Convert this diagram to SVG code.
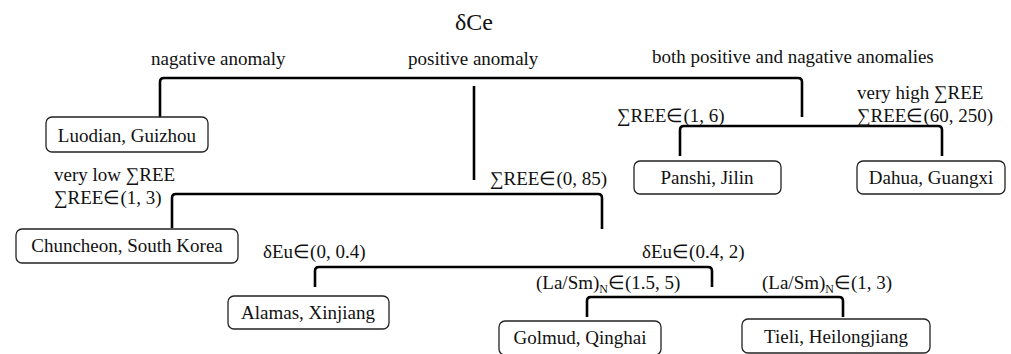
<svg xmlns="http://www.w3.org/2000/svg" width="1011" height="354" viewBox="0 0 1011 354">
<style>
text{font-family:"Liberation Serif","Times New Roman",serif;font-size:19px;fill:#111}
.t{font-size:24px}
.box rect{fill:#fff;stroke:#222;stroke-width:1.3}
.box text{text-anchor:middle}
.c path{fill:none;stroke:#000;stroke-width:2.6;stroke-linejoin:round;stroke-linecap:butt}
</style>
<rect width="1011" height="354" fill="#fff"/>
<text class="t" x="455" y="30">δCe</text>
<g class="c">
<path d="M160 117 V82 Q160 78 164 78 H798 Q802 78 802 82 V117"/>
<path d="M474 86 V180"/>
<path d="M680 156 V130 Q680 126 684 126 H938 Q942 126 942 130 V156"/>
<path d="M172 228 V198 Q172 194 176 194 H598 Q602 194 602 198 V229"/>
<path d="M315 287 V271 Q315 267 319 267 H708 Q712 267 712 271 V287"/>
<path d="M587 317 V301 Q587 297 591 297 H839 Q843 297 843 301 V317"/>
</g>
<g id="labels">
<text x="151" y="65">nagative anomaly</text>
<text x="408" y="65">positive anomaly</text>
<text x="652" y="63">both positive and nagative anomalies</text>
<text x="617" y="122">∑REE∈(1, 6)</text>
<text x="857" y="99">very high ∑REE</text>
<text x="857" y="122">∑REE∈(60, 250)</text>
<text x="54" y="181">very low ∑REE</text>
<text x="54" y="204">∑REE∈(1, 3)</text>
<text x="490" y="185">∑REE∈(0, 85)</text>
<text x="263" y="258">δEu∈(0, 0.4)</text>
<text x="642" y="258">δEu∈(0.4, 2)</text>
<text x="536" y="289">(La/Sm)<tspan font-size="12" dy="4">N</tspan><tspan dy="-4">∈(1.5, 5)</tspan></text>
<text x="762" y="289">(La/Sm)<tspan font-size="12" dy="4">N</tspan><tspan dy="-4">∈(1, 3)</tspan></text>
</g>
<g id="luodian" class="box"><rect x="46" y="117" width="162" height="35" rx="6"/><text x="127" y="142">Luodian, Guizhou</text></g>
<g id="panshi" class="box"><rect x="634" y="161" width="147" height="33" rx="6"/><text x="707" y="184">Panshi, Jilin</text></g>
<g id="dahua" class="box"><rect x="857" y="161" width="148" height="33" rx="6"/><text x="931" y="184">Dahua, Guangxi</text></g>
<g id="chuncheon" class="box"><rect x="16" y="229" width="222" height="34" rx="6"/><text x="127" y="252">Chuncheon, South Korea</text></g>
<g id="alamas" class="box"><rect x="228" y="296" width="161" height="33" rx="6"/><text x="308" y="319">Alamas, Xinjiang</text></g>
<g id="golmud" class="box"><rect x="499" y="321" width="162" height="34" rx="6"/><text x="580" y="344">Golmud, Qinghai</text></g>
<g id="tieli" class="box"><rect x="742" y="319" width="188" height="34" rx="6"/><text x="836" y="343">Tieli, Heilongjiang</text></g>
</svg>
